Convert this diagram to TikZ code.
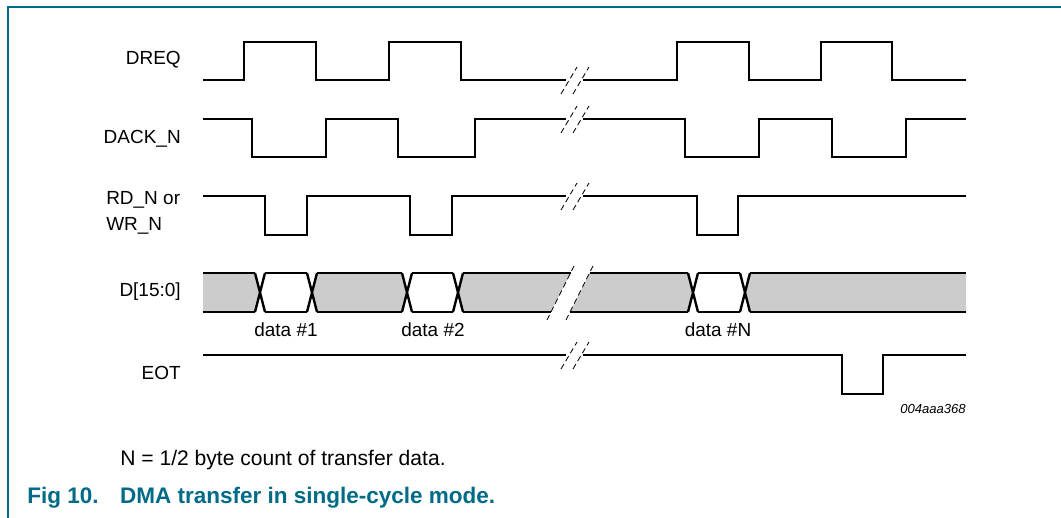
\documentclass[tikz,border=0pt]{standalone}
\usepackage{fontspec}
\setmainfont{Liberation Sans}
\usetikzlibrary{calc}
\definecolor{nxpteal}{RGB}{0,107,135}
\definecolor{busgray}{RGB}{204,204,204}
% break mark on a single line, #1 = level of the line
\def\linebreak(#1){\draw[slash] (561,#1+14) -- (577,#1-13); \draw[slash] (573,#1+14) -- (589,#1-13);}

\begin{document}
\begin{tikzpicture}[x=0.025cm,y=-0.025cm,
    sig/.style={line width=1.7pt, line join=miter},
    slash/.style={line width=0.6pt, dash pattern=on 4pt off 2.5pt},
    busfill/.style={fill=busgray},
    lbl/.style={inner sep=0pt, font=\fontsize{13.5}{18}\selectfont},
    frame/.style={draw=nxpteal, line width=1.1pt}]
		%%%%% START %%%%%
		\useasboundingbox (0,0) rectangle (1061,518);
		\draw[frame] (8,518) -- (8,7) -- (1061,7);
		
		% signal names
		\node[lbl, anchor=east] (dreq) at (181,60) {DREQ};
		\node[lbl, anchor=east] (dack) at (181,139) {DACK\_N};
		\node[lbl, anchor=west, align=left] (rdwr) at (106,213) {RD\_N or\\WR\_N};
		\node[lbl, anchor=east] (data) at (181,292) {D[15:0]};
		\node[lbl, anchor=east] (eot) at (181,373) {EOT};
		
		% DREQ
		\draw[sig] (203,80) -- (244,80) -- (244,42) -- (316,42) -- (316,80) -- (389,80) -- (389,42) -- (461,42) -- (461,80) -- (566,80);
		\draw[sig] (583,80) -- (677,80) -- (677,42) -- (749,42) -- (749,80) -- (821,80) -- (821,42) -- (892,42) -- (892,80) -- (966,80);
		\linebreak(80)
		
		% DACK_N
		\draw[sig] (203,119) -- (252,119) -- (252,157) -- (326,157) -- (326,119) -- (398,119) -- (398,157) -- (475,157) -- (475,119) -- (566,119);
		\draw[sig] (583,119) -- (685,119) -- (685,157) -- (759,157) -- (759,119) -- (832,119) -- (832,157) -- (906,157) -- (906,119) -- (966,119);
		\linebreak(119)
		
		% RD_N or WR_N
		\draw[sig] (203,196) -- (265,196) -- (265,235) -- (307,235) -- (307,196) -- (410,196) -- (410,235) -- (452,235) -- (452,196) -- (566,196);
		\draw[sig] (583,196) -- (697,196) -- (697,235) -- (738,235) -- (738,196) -- (966,196);
		\linebreak(196)
		
		% D[15:0]
		\fill[busfill] (203,273) -- (255,273) -- (260,292.5) -- (255,312) -- (203,312) -- cycle;
		\fill[busfill] (312,292.5) -- (317,273) -- (402,273) -- (407,292.5) -- (402,312) -- (317,312) -- cycle;
		\fill[busfill] (458,292.5) -- (463,273) -- (570.5,273) -- (551,312) -- (463,312) -- cycle;
		\fill[busfill] (589.5,273) -- (688,273) -- (693,292.5) -- (688,312) -- (570,312) -- cycle;
		\fill[busfill] (745,292.5) -- (750,273) -- (966,273) -- (966,312) -- (750,312) -- cycle;
		\draw[sig] (203,273) -- (255,273) (265,273) -- (307,273) (317,273) -- (402,273) (412,273) -- (453,273) (463,273) -- (570.5,273);
		\draw[sig] (203,312) -- (255,312) (265,312) -- (307,312) (317,312) -- (402,312) (412,312) -- (453,312) (463,312) -- (551,312);
		\draw[sig] (589.5,273) -- (688,273) (698,273) -- (740,273) (750,273) -- (966,273);
		\draw[sig] (570,312) -- (688,312) (698,312) -- (740,312) (750,312) -- (966,312);
		\foreach \c in {260,312,407,458,693,745}
			\draw[sig] (\c-5,273) -- (\c+5,312) (\c-5,312) -- (\c+5,273);
		\draw[slash] (547,320) -- (575,264);
		\draw[slash] (566,320) -- (594,264);
		\node[lbl] (d1) at (286,330) {data \#1};
		\node[lbl] (d2) at (433,330) {data \#2};
		\node[lbl] (dn) at (718,330) {data \#N};
		
		% EOT
		\draw[sig] (203,355) -- (566,355);
		\draw[sig] (583,355) -- (842,355) -- (842,394) -- (883,394) -- (883,355) -- (966,355);
		\linebreak(355)
		
		\node[inner sep=0pt, anchor=east, font=\fontsize{9.3}{11}\selectfont\itshape] (ref) at (966,409) {004aaa368};
		
		% note and caption
		\node[inner sep=0pt, anchor=base west, font=\fontsize{15}{18}\selectfont] (note) at (120,465) {N = 1/2 byte count of transfer data.};
		\node[inner sep=0pt, anchor=base west, text=nxpteal, font=\fontsize{16}{19}\selectfont\bfseries] (cap) at (27,503) {\makebox[66pt][l]{Fig 10.}DMA transfer in single-cycle mode.};
		%%%%% END %%%%%
\end{tikzpicture}
\end{document}
